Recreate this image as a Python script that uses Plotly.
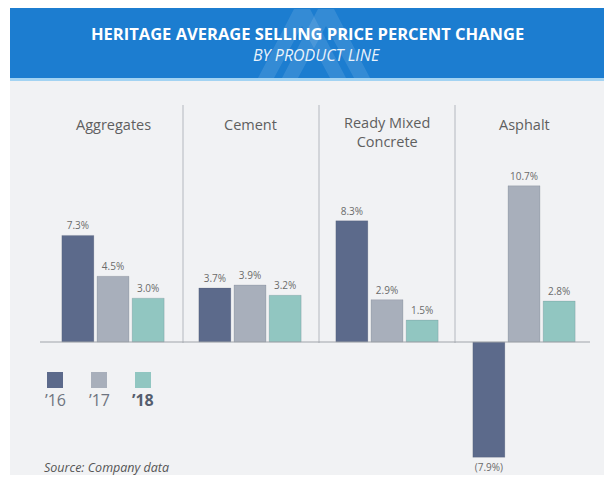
import plotly.graph_objects as go

# data
categories = ['Aggregates', 'Cement', 'Ready Mixed<br>Concrete', 'Asphalt']
years = ['’16', '’17', '’18']
pct_16 = [7.3, 3.7, 8.3, -7.9]
pct_17 = [4.5, 3.9, 2.9, 10.7]
pct_18 = [3.0, 3.2, 1.5, 2.8]
colors = ['#5c6a8b', '#a8afbb', '#91c6c1']

# the page body has an 8px margin, so the figure is drawn 8px smaller and
# positions below are given in window pixels
W, H = 604, 467


def px_x(p):
    return (p - 8) / W


def px_y(p):
    return 1 - (p - 8) / H


def fmt(v):
    return f'({abs(v):.1f}%)' if v < 0 else f'{v:.1f}%'


fig = go.Figure()
for yr, vals, col in zip(years, [pct_16, pct_17, pct_18], colors):
    fig.add_trace(go.Bar(
        x=list(range(len(categories))), y=vals, name=yr,
        marker=dict(color=col, line=dict(color='rgba(60,70,90,0.25)', width=0.6)),
        text=[fmt(v) for v in vals], textposition='outside',
        textfont=dict(size=10, color='#6b6b6b', family='Open Sans'),
        cliponaxis=False, showlegend=False,
    ))

shapes = []
# light page panel
shapes.append(dict(type='rect', xref='paper', yref='paper', x0=px_x(10), x1=px_x(610),
                   y0=0, y1=px_y(80), fillcolor='#f1f2f4', line_width=0, layer='below'))
# header band
shapes.append(dict(type='rect', xref='paper', yref='paper', x0=px_x(10), x1=px_x(610),
                   y0=px_y(78), y1=px_y(8), fillcolor='#1c7dd0', line_width=0, layer='below'))
shapes.append(dict(type='rect', xref='paper', yref='paper', x0=px_x(10), x1=px_x(610),
                   y0=px_y(81), y1=px_y(78), fillcolor='#a3d3f2', line_width=0, layer='below'))
# faint "M" watermark in header
for dx in (0, 24):
    x0 = 258 + dx
    path = (f'M {px_x(x0)},{px_y(78)} L {px_x(x0 + 36)},{px_y(9)} L {px_x(x0 + 52)},{px_y(9)} '
            f'L {px_x(x0 + 88)},{px_y(78)} L {px_x(x0 + 72)},{px_y(78)} L {px_x(x0 + 44)},{px_y(26)} '
            f'L {px_x(x0 + 16)},{px_y(78)} Z')
    shapes.append(dict(type='path', xref='paper', yref='paper', path=path,
                       fillcolor='rgba(255,255,255,0.11)', line_width=0, layer='below'))
# panel dividers
for xd in (183, 319, 455):
    shapes.append(dict(type='line', xref='paper', yref='paper', x0=px_x(xd), x1=px_x(xd),
                       y0=px_y(343), y1=px_y(105), line=dict(color='#b4b8bf', width=1)))
# baseline
shapes.append(dict(type='line', xref='paper', yref='y', x0=px_x(40), x1=px_x(590),
                   y0=0, y1=0, line=dict(color='#a0a4aa', width=1)))
# legend squares
for i, col in enumerate(colors):
    lx = 47 + i * 44
    shapes.append(dict(type='rect', xref='paper', yref='paper', x0=px_x(lx), x1=px_x(lx + 16),
                       y0=px_y(388), y1=px_y(372), fillcolor=col, line_width=0))

annotations = [
    dict(text='<b>HERITAGE AVERAGE SELLING PRICE PERCENT CHANGE</b>', x=px_x(307), y=px_y(34),
         font=dict(size=16.5, color='white', family='Open Sans')),
    dict(text='<i>BY PRODUCT LINE</i>', x=px_x(316), y=px_y(55),
         font=dict(size=16, color='#e8f2fb', family='Open Sans')),
    dict(text='<i>Source: Company data</i>', x=px_x(42), y=px_y(467), xanchor='left',
         font=dict(size=12.5, color='#555555', family='Open Sans')),
]
for i, cat in enumerate(categories):
    ny = cat.count('<br>')
    annotations.append(dict(text=cat, x=i, xref='x', y=px_y(124 + 8 * ny),
                            font=dict(size=14.5, color='#5f5f5f', family='Open Sans')))
for i, yr in enumerate(years):
    txt = f'<b>{yr}</b>' if i == 2 else yr
    annotations.append(dict(text=txt, x=px_x(55 + i * 44), y=px_y(400),
                            font=dict(size=16, color='#555e6e' if i == 2 else '#6e7480',
                                      family='Open Sans')))
for a in annotations:
    a.setdefault('xref', 'paper')
    a.setdefault('yref', 'paper')
    a.setdefault('xanchor', 'center')
    a.setdefault('yanchor', 'middle')
    a.setdefault('showarrow', False)

# 137 px per category, first centred at 113 px; baseline at 342 px, 14.6 px per point
xmin = -(113 - 8) / 137
ymax = (342 - 8) / 14.6
fig.update_layout(
    width=W, height=H, autosize=False,
    margin=dict(l=0, r=0, t=0, b=0),
    paper_bgcolor='white', plot_bgcolor='rgba(0,0,0,0)',
    barmode='group', bargap=0.23, bargroupgap=0.09,
    xaxis=dict(range=[xmin, xmin + W / 137], visible=False, fixedrange=True),
    yaxis=dict(range=[ymax - H / 14.6, ymax], visible=False, fixedrange=True),
    shapes=shapes, annotations=annotations,
    font=dict(family='Open Sans'),
)

fig.write_html('out.html')
